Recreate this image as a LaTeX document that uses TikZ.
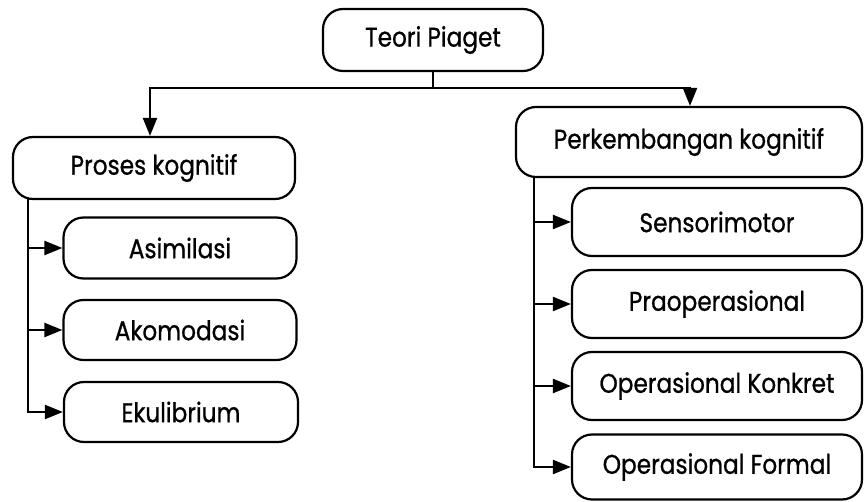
\documentclass[tikz,border=0pt]{standalone}
\usepackage{fontspec}
\setmainfont{Poppins}[FakeStretch=0.86,FakeBold=0.8]
\usetikzlibrary{arrows.meta}
\begin{document}
\begin{tikzpicture}[x=1pt,y=-1pt,
 box/.style={draw,line width=2.2pt,rounded corners=20pt,inner sep=0pt,font=\fontsize{27}{32}\selectfont,anchor=center},
 conn/.style={line width=2.2pt},
 arr/.style={conn,-{Triangle[length=18pt,width=14pt]}}]
\useasboundingbox[fill=white] (0,0) rectangle (864,502);
\node[box,minimum width=220pt,minimum height=62pt] (root) at (433,40) {Teori Piaget};
\node[box,minimum width=282pt,minimum height=62pt] (pk) at (154,168) {Proses kognitif};
\node[box,minimum width=233pt,minimum height=61pt] (as) at (180,248) {Asimilasi};
\node[box,minimum width=233pt,minimum height=60pt] (ak) at (180,330) {Akomodasi};
\node[box,minimum width=234pt,minimum height=60pt] (ek) at (181,412) {Ekulibrium};
\node[box,minimum width=346pt,minimum height=70pt] (pkg) at (689,142) {Perkembangan kognitif};
\node[box,minimum width=290pt,minimum height=68pt] (sm) at (717,222) {Sensorimotor};
\node[box,minimum width=290pt,minimum height=68pt] (pr) at (717,304) {Praoperasional};
\node[box,minimum width=290pt,minimum height=68pt] (ok) at (717,386) {Operasional Konkret};
\node[box,minimum width=290pt,minimum height=65pt] (of) at (717,467) {Operasional Formal};
\coordinate (j) at (433,88);
\draw[conn] (root.south) -- (j);
\draw[arr] (j) -| ([xshift=-4pt]pk.north);
\draw[arr] (j) -| ([xshift=1pt]pkg.north);
\coordinate (lt) at (28,199);
\draw[arr] (lt) |- (as.west);
\draw[arr] (lt) |- (ak.west);
\draw[arr] (lt) |- (ek.west);
\coordinate (rt) at (534,177);
\draw[arr] (rt) |- (sm.west);
\draw[arr] (rt) |- (pr.west);
\draw[arr] (rt) |- (ok.west);
\draw[arr] (rt) |- (of.west);
\end{tikzpicture}
\end{document}
